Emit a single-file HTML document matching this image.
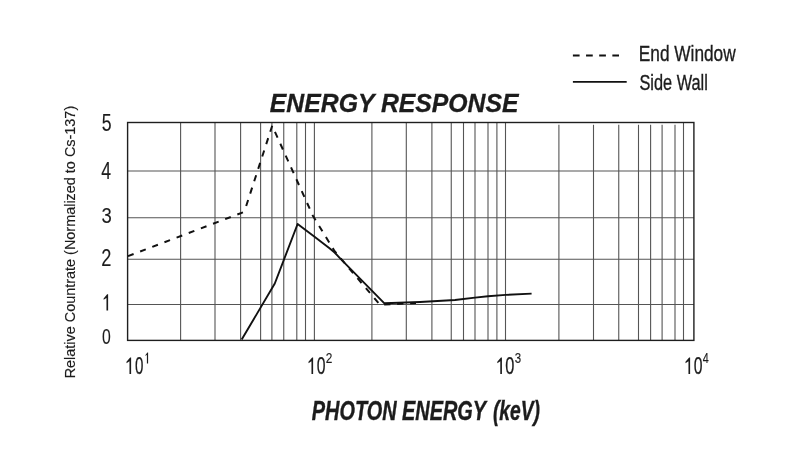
<!DOCTYPE html>
<html><head><meta charset="utf-8"><style>
html,body{margin:0;padding:0;background:#fff;width:800px;height:471px;overflow:hidden}
svg{display:block;will-change:transform}
text{font-family:"Liberation Sans",sans-serif;fill:#1c1c1c}
</style></head><body>
<svg width="800" height="471" viewBox="0 0 800 471">
<rect width="800" height="471" fill="#fff"/>
<g stroke="#555" stroke-width="1.1" fill="none">
<line x1="180.6" y1="122.5" x2="180.6" y2="340.4"/>
<line x1="215" y1="122.5" x2="215" y2="340.4"/>
<line x1="240.6" y1="122.5" x2="240.6" y2="340.4"/>
<line x1="260.6" y1="122.5" x2="260.6" y2="340.4"/>
<line x1="271.9" y1="122.5" x2="271.9" y2="340.4"/>
<line x1="283.75" y1="122.5" x2="283.75" y2="340.4"/>
<line x1="296.8" y1="122.5" x2="296.8" y2="340.4"/>
<line x1="305.5" y1="122.5" x2="305.5" y2="340.4"/>
<line x1="314.4" y1="122.5" x2="314.4" y2="340.4"/>
<line x1="371.9" y1="122.5" x2="371.9" y2="340.4"/>
<line x1="406.3" y1="122.5" x2="406.3" y2="340.4"/>
<line x1="431.9" y1="122.5" x2="431.9" y2="340.4"/>
<line x1="451.25" y1="122.5" x2="451.25" y2="340.4"/>
<line x1="463.5" y1="122.5" x2="463.5" y2="340.4"/>
<line x1="475" y1="122.5" x2="475" y2="340.4"/>
<line x1="488" y1="122.5" x2="488" y2="340.4"/>
<line x1="496.9" y1="122.5" x2="496.9" y2="340.4"/>
<line x1="505.5" y1="122.5" x2="505.5" y2="340.4"/>
<line x1="558.9" y1="124.8" x2="558.9" y2="340.4"/>
<line x1="593.5" y1="124.8" x2="593.5" y2="340.4"/>
<line x1="618.75" y1="124.8" x2="618.75" y2="340.4"/>
<line x1="638.5" y1="124.8" x2="638.5" y2="340.4"/>
<line x1="650.6" y1="124.8" x2="650.6" y2="340.4"/>
<line x1="662.1" y1="124.8" x2="662.1" y2="340.4"/>
<line x1="675" y1="124.8" x2="675" y2="340.4"/>
<line x1="683.5" y1="122.5" x2="683.5" y2="340.4"/>
<line x1="127.6" y1="171" x2="693.9" y2="171"/>
<line x1="127.6" y1="217.8" x2="693.9" y2="217.8"/>
<line x1="127.6" y1="259.3" x2="693.9" y2="259.3"/>
<line x1="127.6" y1="304.5" x2="693.9" y2="304.5"/>
</g>
<rect x="127.6" y="122.5" width="566.3" height="217.9" fill="none" stroke="#1e1e1e" stroke-width="1.4"/>
<g stroke="#111" stroke-width="2" fill="none">
<line x1="128" y1="256.1" x2="244.3" y2="211.8" stroke-dasharray="6 7"/>
<polyline points="244.3,211.8 272.2,125.8 313.0,216.0 334.6,251.2 380.0,304.8 416.0,302.9" stroke-dasharray="6.3 6.7" stroke-dashoffset="6.89" stroke-linejoin="round"/>
</g>
<polyline points="241.7,339.6 274.8,283.5 297.6,224.0 314.2,236.5 329.5,248.2 334.6,252.5 340.6,258.9 384.4,303.3 420.0,302.0 455.0,300.0 475.0,297.6 488.0,296.2 505.7,294.9 531.6,293.6" fill="none" stroke="#111" stroke-width="1.9" stroke-linejoin="round"/>
<text x="101.79" y="130.77" font-size="23.00" textLength="9.84" lengthAdjust="spacingAndGlyphs" stroke="#1c1c1c" stroke-width="0.12">5</text>
<text x="101.26" y="178.50" font-size="23.62" textLength="9.79" lengthAdjust="spacingAndGlyphs" stroke="#1c1c1c" stroke-width="0.12">4</text>
<text x="101.46" y="223.17" font-size="22.96" textLength="10.30" lengthAdjust="spacingAndGlyphs" stroke="#1c1c1c" stroke-width="0.12">3</text>
<text x="101.29" y="265.50" font-size="23.29" textLength="10.15" lengthAdjust="spacingAndGlyphs" stroke="#1c1c1c" stroke-width="0.12">2</text>
<text x="102.07" y="344.27" font-size="22.96" textLength="8.78" lengthAdjust="spacingAndGlyphs" stroke="#1c1c1c" stroke-width="0.12">0</text>
<text x="134.89" y="373.86" font-size="23.52" textLength="8.43" lengthAdjust="spacingAndGlyphs" stroke="#1c1c1c" stroke-width="0.25">0</text>
<text x="316.67" y="373.86" font-size="23.52" textLength="8.78" lengthAdjust="spacingAndGlyphs" stroke="#1c1c1c" stroke-width="0.25">0</text>
<text x="505.34" y="373.86" font-size="23.52" textLength="9.13" lengthAdjust="spacingAndGlyphs" stroke="#1c1c1c" stroke-width="0.25">0</text>
<text x="693.87" y="373.86" font-size="23.52" textLength="8.78" lengthAdjust="spacingAndGlyphs" stroke="#1c1c1c" stroke-width="0.25">0</text>
<text x="325.81" y="363.30" font-size="15.00" textLength="6.60" lengthAdjust="spacingAndGlyphs" stroke="#1c1c1c" stroke-width="0.15">2</text>
<text x="514.74" y="363.15" font-size="15.21" textLength="6.39" lengthAdjust="spacingAndGlyphs" stroke="#1c1c1c" stroke-width="0.15">3</text>
<text x="702.83" y="363.10" font-size="15.36" textLength="6.01" lengthAdjust="spacingAndGlyphs" stroke="#1c1c1c" stroke-width="0.15">4</text>
<text x="269.80" y="112.24" font-size="26.06" font-weight="bold" font-style="italic" textLength="248.78" lengthAdjust="spacingAndGlyphs" stroke="#1c1c1c" stroke-width="0.3">ENERGY RESPONSE</text>
<text x="311.80" y="419.93" font-size="26.86" font-weight="bold" font-style="italic" textLength="174.32" lengthAdjust="spacingAndGlyphs" stroke="#1c1c1c" stroke-width="0.4">PHOTON ENERGY</text>
<text x="492.93" y="419.93" font-size="26.86" font-weight="bold" font-style="italic" textLength="47.06" lengthAdjust="spacingAndGlyphs" stroke="#1c1c1c" stroke-width="0.4">(keV)</text>
<text x="638.82" y="61.25" font-size="22.83" textLength="96.86" lengthAdjust="spacingAndGlyphs" stroke="#1c1c1c" stroke-width="0.35">End Window</text>
<text x="639.46" y="89.75" font-size="21.74" textLength="68.42" lengthAdjust="spacingAndGlyphs" stroke="#1c1c1c" stroke-width="0.35">Side Wall</text>
<text stroke="#1c1c1c" stroke-width="0.15" transform="translate(75,377.2) rotate(-90)" x="-1.15" y="0.00" font-size="14.93" textLength="272.54" lengthAdjust="spacingAndGlyphs">Relative Countrate (Normalized to Cs-137)</text>
<g fill="#1c1c1c">
<polygon points="108.12,294.30 108.12,310.40 106.47,310.40 106.47,297.90 103.60,299.86 103.60,298.46 107.13,294.30"/>
<polygon points="131.12,357.60 131.12,373.90 129.48,373.90 129.48,361.20 126.50,363.16 126.50,361.76 130.14,357.60"/>
<polygon points="313.12,357.60 313.12,373.90 311.48,373.90 311.48,361.20 308.50,363.16 308.50,361.76 312.13,357.60"/>
<polygon points="501.93,357.60 501.93,373.90 500.28,373.90 500.28,361.20 497.30,363.16 497.30,361.76 500.94,357.60"/>
<polygon points="690.12,357.60 690.12,373.90 688.47,373.90 688.47,361.20 685.50,363.16 685.50,361.76 689.13,357.60"/>
<polygon points="148.10,352.40 148.10,363.40 146.90,363.40 146.90,354.84 145.50,356.08 145.50,355.06 147.38,352.40"/>
</g>
<line x1="572.9" y1="55.5" x2="619" y2="55.5" stroke="#111" stroke-width="1.9" stroke-dasharray="6.7 6.45"/>
<line x1="572.9" y1="81.9" x2="626.7" y2="81.9" stroke="#111" stroke-width="1.9"/>
</svg>
</body></html>
